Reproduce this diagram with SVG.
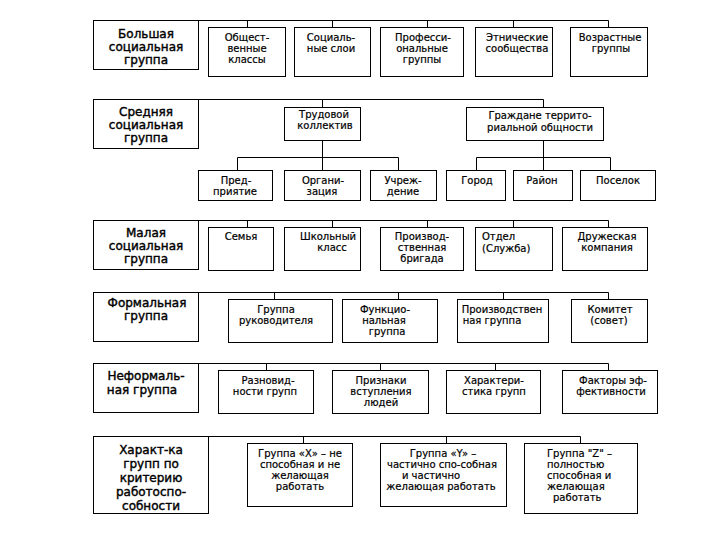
<svg xmlns="http://www.w3.org/2000/svg" width="720" height="540" viewBox="0 0 720 540">
<style>
rect{fill:#fff;stroke:#000;stroke-width:1}
.c path{fill:none;stroke:#000;stroke-width:1}
.L{font-family:"DejaVu Sans","Liberation Sans",sans-serif;font-size:12px;fill:#000;stroke:#000;stroke-width:0.4;text-anchor:middle}
.s{font-family:"DejaVu Sans","Liberation Sans",sans-serif;font-size:10px;fill:#000;stroke:#000;stroke-width:0.2;text-anchor:middle}
.sl{text-anchor:start}
</style>
<rect x="0" y="0" width="720" height="540" style="fill:#fff;stroke:none"/>
<g class="c" id="connectors">
<path d="M198 20.5H608.5M247.5 20.5V27M332.5 20.5V27M427.5 20.5V27M513.5 20.5V27M608.5 20.5V27"/>
<path d="M198 99.5H543.5M322.5 99.5V107M543.5 99.5V107"/>
<path d="M322.5 140V157.5M237.5 157.5H398.5M237.5 157.5V170M322.5 157.5V170M398.5 157.5V170"/>
<path d="M543.5 140V157.5M476.5 157.5H610.5M476.5 157.5V170M543.5 157.5V170M610.5 157.5V170"/>
<path d="M198 220.5H608.5M247.5 220.5V227M332.5 220.5V227M427.5 220.5V227M513.5 220.5V227M608.5 220.5V227"/>
<path d="M198 292.5H608.5M274.5 292.5V299M398.5 292.5V299M503.5 292.5V299M608.5 292.5V299"/>
<path d="M198 363.5H608.5M266.5 363.5V370M380.5 363.5V370M495.5 363.5V370M608.5 363.5V370"/>
<path d="M208 436.5H580.5M303.5 436.5V443M446.5 436.5V443M580.5 436.5V443"/>
</g>
<g id="big"><rect x="93.5" y="20.5" width="105" height="49"/><text class="L" x="146" y="38">Большая</text><text class="L" x="146" y="51">социальная</text><text class="L" x="146" y="64">группа</text></g>
<g id="b1"><rect x="208.5" y="27.5" width="77" height="49"/><text class="s" x="247" y="41">Общест-</text><text class="s" x="247" y="52">венные</text><text class="s" x="247" y="63">классы</text></g>
<g id="b2"><rect x="294.5" y="27.5" width="76" height="49"/><text class="s" x="331" y="41">Социаль-</text><text class="s" x="331" y="52">ные слои</text></g>
<g id="b3"><rect x="380.5" y="27.5" width="83" height="49"/><text class="s" x="423" y="41">Професси-</text><text class="s" x="422" y="52">ональные</text><text class="s" x="422" y="63">группы</text></g>
<g id="b4"><rect x="475.5" y="27.5" width="77" height="49"/><text class="s" x="517" y="41">Этнические</text><text class="s" x="517" y="52">сообщества</text></g>
<g id="b5"><rect x="570.5" y="27.5" width="77" height="49"/><text class="s" x="610" y="41">Возрастные</text><text class="s" x="611" y="52">группы</text></g>

<g id="mid"><rect x="93.5" y="99.5" width="105" height="49"/><text class="L" x="146" y="116">Средняя</text><text class="L" x="146" y="129">социальная</text><text class="L" x="146" y="142">группа</text></g>
<g id="trud"><rect x="284.5" y="107.5" width="76" height="33"/><text class="s" x="324" y="118">Трудовой</text><text class="s" x="325" y="129">коллектив</text></g>
<g id="grazh"><rect x="466.5" y="107.5" width="137" height="33"/><text class="s" x="540" y="119">Граждане террито-</text><text class="s" x="540" y="131">риальной общности</text></g>
<g id="pred"><rect x="198.5" y="170.5" width="74" height="30"/><text class="s" x="236" y="184">Пред-</text><text class="s" x="235" y="195">приятие</text></g>
<g id="org"><rect x="284.5" y="170.5" width="76" height="30"/><text class="s" x="323" y="184">Органи-</text><text class="s" x="322" y="195">зация</text></g>
<g id="uch"><rect x="370.5" y="170.5" width="66" height="30"/><text class="s" x="403" y="184">Учреж-</text><text class="s" x="403" y="195">дение</text></g>
<g id="gorod"><rect x="446.5" y="170.5" width="59" height="30"/><text class="s" x="477" y="184">Город</text></g>
<g id="rayon"><rect x="513.5" y="170.5" width="59" height="30"/><text class="s" x="542" y="184">Район</text></g>
<g id="pos"><rect x="580.5" y="170.5" width="75" height="30"/><text class="s" x="618" y="184">Поселок</text></g>

<g id="small"><rect x="93.5" y="220.5" width="105" height="49"/><text class="L" x="146" y="237">Малая</text><text class="L" x="146" y="250">социальная</text><text class="L" x="146" y="263">группа</text></g>
<g id="sem"><rect x="208.5" y="227.5" width="65" height="43"/><text class="s" x="241" y="240">Семья</text></g>
<g id="shk"><rect x="284.5" y="227.5" width="76" height="43"/><text class="s" x="328" y="240">Школьный</text><text class="s" x="332" y="251">класс</text></g>
<g id="brig"><rect x="380.5" y="227.5" width="83" height="43"/><text class="s" x="422" y="240">Производ-</text><text class="s" x="422" y="251">ственная</text><text class="s" x="422" y="262">бригада</text></g>
<g id="otd"><rect x="475.5" y="227.5" width="77" height="43"/><text class="s sl" x="482" y="240">Отдел</text><text class="s sl" x="482" y="252">(Служба)</text></g>
<g id="druzh"><rect x="562.5" y="227.5" width="85" height="43"/><text class="s" x="607" y="240">Дружеская</text><text class="s" x="607" y="251">компания</text></g>

<g id="formal"><rect x="93.5" y="292.5" width="105" height="49"/><text class="L" x="147" y="307">Формальная</text><text class="L" x="146" y="320">группа</text></g>
<g id="ruk"><rect x="228.5" y="299.5" width="104" height="43"/><text class="s" x="276" y="313">Группа</text><text class="s" x="276" y="324">руководителя</text></g>
<g id="func"><rect x="342.5" y="299.5" width="95" height="43"/><text class="s" x="385" y="313">Функцио-</text><text class="s" x="384" y="324">нальная</text><text class="s" x="387" y="335">группа</text></g>
<g id="proizv"><rect x="457.5" y="299.5" width="91" height="43"/><text class="s" x="502" y="313">Производствен</text><text class="s" x="492" y="324">ная группа</text></g>
<g id="kom"><rect x="571.5" y="299.5" width="76" height="43"/><text class="s" x="610" y="313">Комитет</text><text class="s" x="609" y="324">(совет)</text></g>

<g id="neformal"><rect x="93.5" y="363.5" width="105" height="49"/><text class="L" x="146" y="380">Неформаль-</text><text class="L" x="142" y="394">ная группа</text></g>
<g id="razn"><rect x="218.5" y="370.5" width="95" height="43"/><text class="s" x="268" y="384">Разновид-</text><text class="s" x="265" y="395">ности групп</text></g>
<g id="prizn"><rect x="332.5" y="370.5" width="96" height="43"/><text class="s" x="381" y="384">Признаки</text><text class="s" x="381" y="395">вступления</text><text class="s" x="381" y="406">людей</text></g>
<g id="harakt"><rect x="446.5" y="370.5" width="94" height="43"/><text class="s" x="494" y="384">Характери-</text><text class="s" x="494" y="395">стика групп</text></g>
<g id="fakt"><rect x="562.5" y="370.5" width="95" height="43"/><text class="s" x="613" y="384">Факторы эф-</text><text class="s" x="611" y="395">фективности</text></g>

<g id="rabot"><rect x="93.5" y="436.5" width="115" height="77"/><text class="L" x="151" y="454">Характ-ка</text><text class="L" x="151" y="468">групп по</text><text class="L" x="151" y="482">критерию</text><text class="L" x="151" y="496">работоспо-</text><text class="L" x="151" y="510">собности</text></g>
<g id="gx"><rect x="247.5" y="443.5" width="105" height="63"/><text class="s" x="300" y="457">Группа «Х» – не</text><text class="s" x="300" y="468">способная и не</text><text class="s" x="300" y="479">желающая</text><text class="s" x="300" y="490">работать</text></g>
<g id="gy"><rect x="380.5" y="443.5" width="126" height="63"/><text class="s" x="443" y="457">Группа «Y» –</text><text class="s" x="442" y="468">частично спо-собная</text><text class="s" x="431" y="479">и частично</text><text class="s" x="441" y="490">желающая работать</text></g>
<g id="gz"><rect x="524.5" y="443.5" width="113" height="70"/><text class="s sl" x="547" y="457">Группа "Z" –</text><text class="s sl" x="547" y="468">полностью</text><text class="s sl" x="547" y="479">способная и</text><text class="s sl" x="547" y="490">желающая</text><text class="s sl" x="553" y="501">работать</text></g>
</svg>
